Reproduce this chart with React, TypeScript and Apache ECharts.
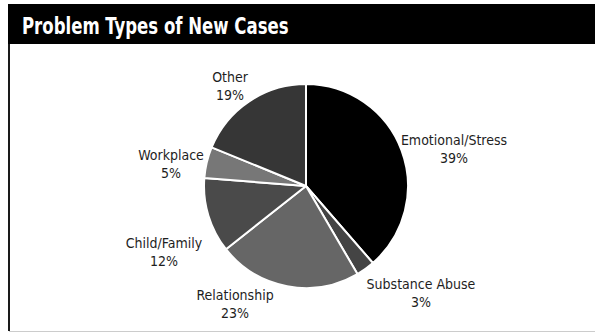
import React, { useEffect, useRef } from "react";
import * as echarts from "echarts";

const categories = [
  "Emotional/Stress",
  "Substance Abuse",
  "Relationship",
  "Child/Family",
  "Workplace",
  "Other",
];
const shares = [39, 3, 23, 12, 5, 19];
const sliceColors = ["#000000", "#444444", "#666666", "#4a4a4a", "#777777", "#363636"];

// Label block centres, as offsets in px from the pie centre
const labelOffsets: [number, number][] = [
  [148, -37],
  [115, 107],
  [-71, 118],
  [-142, 66],
  [-135, -22],
  [-76, -100],
];

const FONT = "'Liberation Sans Narrow', 'DejaVu Sans Condensed', 'Arial Narrow', sans-serif";
const CX = 306;
const CY = 186;

export default function App() {
  const ref = useRef<HTMLDivElement>(null);

  useEffect(() => {
    if (!ref.current) return;
    const chart = echarts.init(ref.current, undefined, { renderer: "svg" });
    chart.setOption({
      animation: false,
      backgroundColor: "#ffffff",
      graphic: [
        {
          type: "rect",
          shape: { x: 8, y: 4, width: 587, height: 40 },
          style: { fill: "#000000" },
          z: 1,
        },
        {
          type: "text",
          x: 22,
          y: 26,
          scaleX: 0.8,
          originX: 0,
          style: {
            text: "Problem Types of New Cases",
            fill: "#ffffff",
            font: `bold 23px ${FONT}`,
            textVerticalAlign: "middle",
          },
          z: 2,
        },
        {
          type: "line",
          shape: { x1: 9, y1: 44, x2: 9, y2: 331 },
          style: { stroke: "#1a1a1a", lineWidth: 2 },
          z: 1,
        },
        {
          type: "line",
          shape: { x1: 9, y1: 331.5, x2: 595, y2: 331.5 },
          style: { stroke: "#cccccc", lineWidth: 1 },
          z: 1,
        },
      ],
      series: [
        {
          type: "pie",
          center: [CX, CY],
          radius: 102,
          startAngle: 90,
          clockwise: true,
          silent: true,
          data: categories.map((name, i) => ({
            name,
            value: shares[i],
            itemStyle: { color: sliceColors[i] },
          })),
          itemStyle: { borderColor: "#ffffff", borderWidth: 2 },
          label: {
            show: true,
            position: "outside",
            formatter: "{b}\n{c}%",
            fontFamily: FONT,
            fontSize: 14,
            lineHeight: 18,
            color: "#1e1e1e",
            align: "center",
          },
          labelLine: { show: false },
          labelLayout: (params: any) => {
            const [dx, dy] = labelOffsets[params.dataIndex];
            return { x: CX + dx, y: CY + dy, align: "center", verticalAlign: "middle" };
          },
        },
      ],
    });
    return () => chart.dispose();
  }, []);

  return (
    <div
      ref={ref}
      style={{ position: "fixed", left: 0, top: 0, width: 595, height: 333, background: "#fff" }}
    />
  );
}
